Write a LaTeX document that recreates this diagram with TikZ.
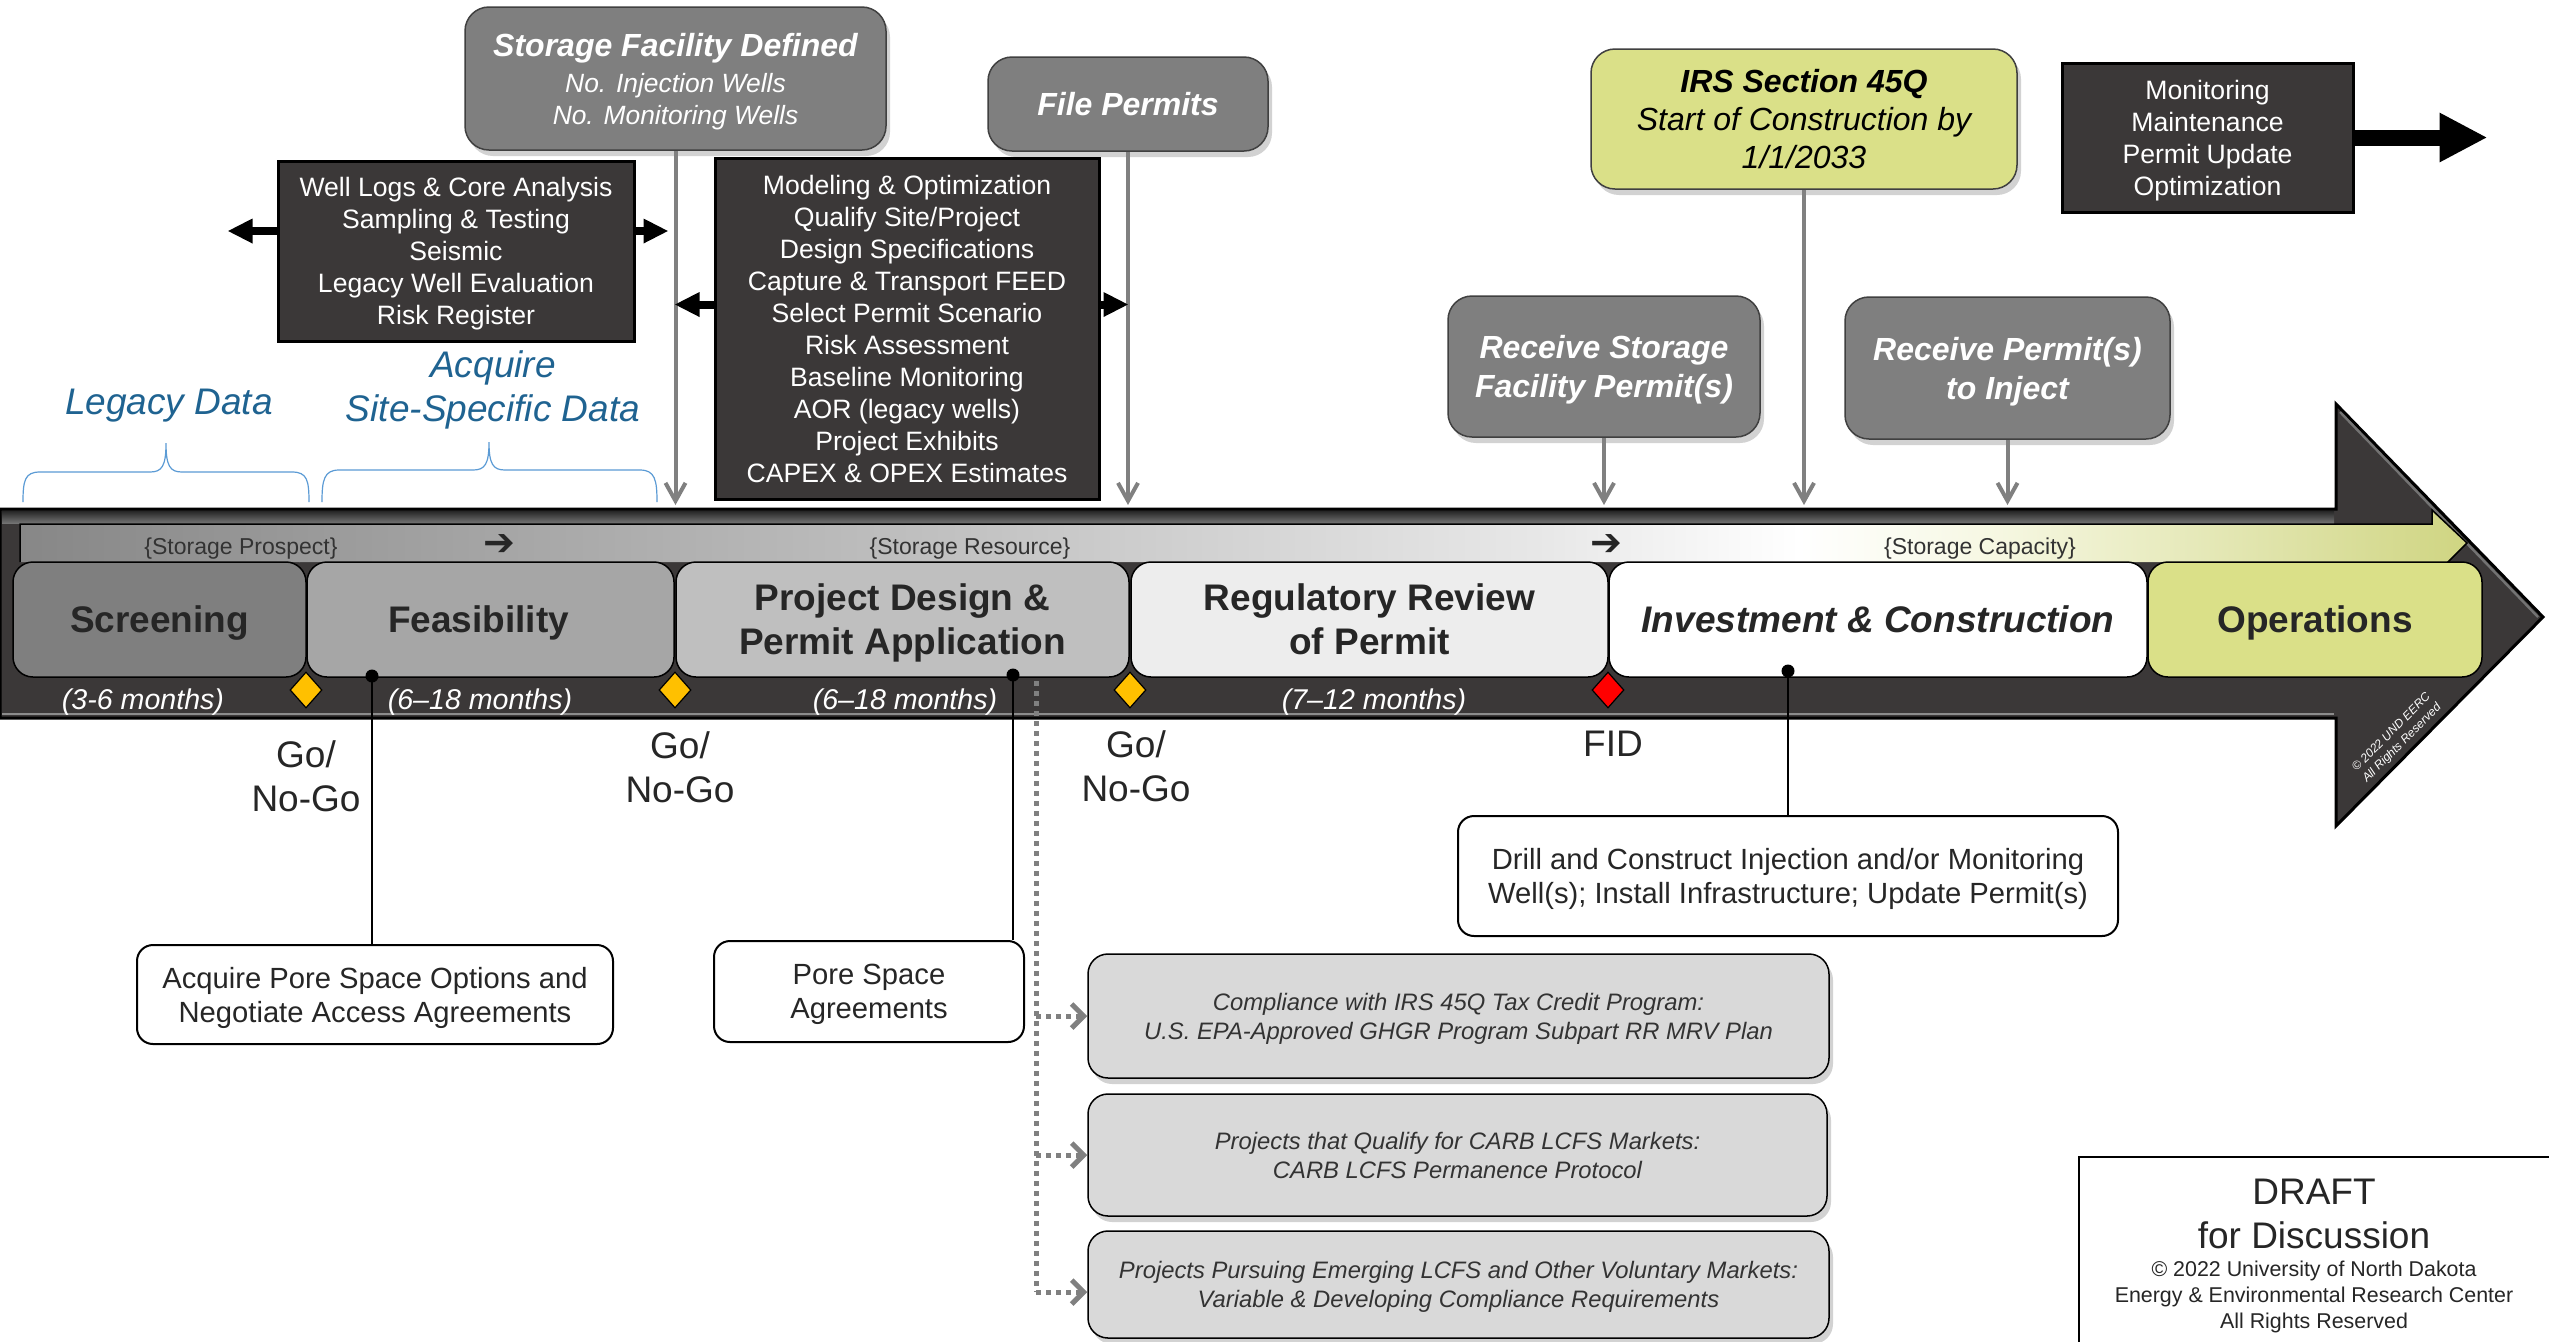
\documentclass[tikz,border=0pt]{standalone}
\usepackage{fontspec}
\setmainfont{Liberation Sans}
\newfontfamily\djv{DejaVu Sans}
\usetikzlibrary{arrows.meta,shapes.geometric,shadows,calc}
\newcommand{\fsz}[2]{\fontsize{#1pt}{#2pt}\selectfont}
\definecolor{txt}{HTML}{262626}
\definecolor{txttwo}{HTML}{333333}
\definecolor{grayfifty}{HTML}{7F7F7F}
\definecolor{bandc}{HTML}{3B3838}
\definecolor{ltg}{HTML}{D9D9D9}
\definecolor{yg}{HTML}{DAE088}
\definecolor{bluet}{HTML}{1F6391}
\definecolor{bracec}{HTML}{5B9BD5}
\definecolor{gold}{HTML}{FFC000}
\definecolor{arrgray}{HTML}{808080}
\begin{document}
\begin{tikzpicture}[x=0.5pt,y=-0.5pt,
  shadowed/.style={drop shadow={shadow xshift=2pt,shadow yshift=-3pt,opacity=0.35}},
  graybox/.style={draw=black!75,line width=0.75pt,fill=grayfifty,rounded corners=12pt,text=white,align=center,inner sep=0pt,text depth=0pt,shadowed},
  darkbox/.style={draw=black,line width=1.5pt,fill=bandc,text=white,align=center,inner sep=0pt,text depth=0pt,font=\fsz{13.3}{16}},
  phase/.style={draw=black,line width=0.75pt,rounded corners=10pt,minimum height=57.5pt,inner sep=0pt,text depth=0pt,align=center,text=txt,font=\bfseries\fsz{18.5}{22}},
  whitebox/.style={draw=black,line width=1pt,fill=white,rounded corners=8pt,align=center,text=txt,inner sep=0pt,text depth=0pt,font=\fsz{14.6}{17}},
  ltbox/.style={draw=black,line width=0.75pt,fill=ltg,rounded corners=10pt,align=center,text=txttwo,inner sep=0pt,text depth=0pt,font=\itshape\fsz{11.9}{14.5},shadowed},
  month/.style={text=white,font=\itshape\fsz{14.3}{17},inner sep=0pt,text depth=0pt},
  dmd/.style={diamond,draw=black,line width=0.6pt,inner sep=0pt,minimum width=16pt,minimum height=18pt},
  dot/.style={circle,fill=black,inner sep=0pt,minimum size=6.5pt},
  conn/.style={draw=black,line width=1.1pt},
  golbl/.style={align=center,text=txt,font=\fsz{18.5}{22},inner sep=0pt},
  bluelbl/.style={align=center,text=bluet,font=\itshape\fsz{18.5}{22},inner sep=0pt},
  brace/.style={draw=bracec,line width=0.6pt},
  strl/.style={text=txttwo,font=\fsz{11.5}{13},inner sep=0pt,text depth=0pt},
  stra/.style={text=txt,font=\djv\fsz{19}{20},inner sep=0pt},
  garrow/.style={draw=arrgray,line width=2pt,-{Straight Barb[length=9pt,width=10pt]}},
  barrow/.style={draw=black,line width=4pt,-{Triangle[length=12.5pt,width=11.5pt]}},
  marrow/.style={draw=black,line width=8pt,-{Triangle[length=24pt,width=23pt]}},
  dotline/.style={draw=arrgray,line width=2.5pt,dash pattern=on 2.5pt off 2.5pt},
  dotarrow/.style={dotline,-{Straight Barb[length=6pt,width=12pt]}}
]
\useasboundingbox (0,0) rectangle (2549,1341);
\fill[white] (0,0) rectangle (2549,1341);

% ---------- main band arrow ----------
\fill[bandc,draw=black,line width=1.5pt] (0,509) -- (2336,509) -- (2336,404) -- (2543,617) -- (2336,826) -- (2336,718) -- (0,718) -- cycle;
\shade[top color=black!85,bottom color=black!55] (2,511) rectangle (2334,523);
\draw[black!45,line width=0.8pt] (2,714) -- (2334,714);
\draw[black!55,line width=1.2pt] (2340,412) -- (2538,617);

% ---------- inner gradient strip arrow ----------
\begin{scope}
\clip (20,524) -- (2432,524) -- (2432,510) -- (2467,543) -- (2432,578) -- (2432,562) -- (20,562) -- cycle;
\shade[left color=black!47,right color=black!40] (20,505) rectangle (300,580);
\shade[left color=black!40,right color=black!23] (299,505) rectangle (1000,580);
\shade[left color=black!23,right color=black!9] (999,505) rectangle (1550,580);
\shade[left color=black!9,right color=white] (1549,505) rectangle (1800,580);
\shade[left color=white,right color=yg!25] (1799,505) rectangle (2000,580);
\shade[left color=yg!25,right color=yg!95!black] (1999,505) rectangle (2470,580);
\end{scope}
\draw[black,line width=0.75pt] (20,562) -- (20,524) -- (2432,524) -- (2432,510) -- (2467,543) -- (2432,578) -- (2432,562);

\node[strl] (sl1) at (241,546) {\{Storage Prospect\}};
\node[stra] (sa1) at (499,545) {➔};
\node[strl] (sl2) at (970,546) {\{Storage Resource\}};
\node[stra] (sa2) at (1606,545) {➔};
\node[strl] (sl3) at (1980,546) {\{Storage Capacity\}};

% ---------- phase boxes ----------
\node[phase,fill=grayfifty,minimum width=146.5pt] (scr) at (159.5,619.5) {Screening};
\node[phase,fill=black!35,minimum width=183.5pt] (fea) at (490.5,619.5) {Feasibility\kern12pt};
\node[phase,fill=black!25,minimum width=226.5pt] (pd) at (902.5,619.5) {Project Design \&\\Permit Application};
\node[phase,fill=black!7,minimum width=238.5pt] (rr) at (1369.5,619.5) {Regulatory Review\\of Permit};
\node[phase,fill=white,minimum width=269pt] (ic) at (1878,619.5) {\itshape Investment \& Construction};
\node[phase,fill=yg,minimum width=167pt] (ops) at (2315,619.5) {Operations};

% months
\node[month] (m1) at (143,699) {(3-6 months)};
\node[month] (m2) at (480,699) {(6--18 months)};
\node[month] (m3) at (905,699) {(6--18 months)};
\node[month] (m4) at (1374,699) {(7--12 months)};

% diamonds
\node[dmd,fill=gold] (k1) at (306,690) {};
\node[dmd,fill=gold] (k2) at (675,690) {};
\node[dmd,fill=gold] (k3) at (1130,690) {};
\node[dmd,fill=red] (k4) at (1608,690) {};

% copyright on arrow head
\node[rotate=45,text=white,align=center,font=\itshape\fsz{6}{7.5},inner sep=0pt] (cpy) at (2397,738) {© 2022 UND EERC\\All Rights Reserved};

% gate labels
\node[golbl] (go1) at (306,776) {Go/\\No-Go};
\node[golbl] (go2) at (680,767) {Go/\\No-Go};
\node[golbl] (go3) at (1136,766) {Go/\\No-Go};
\node[golbl] (fid) at (1613,744) {FID};

% ---------- top boxes ----------
\node[graybox,minimum width=210.5pt,minimum height=71.5pt,font=\itshape\fsz{13.2}{16}] (sfd) at (675.5,78.5)
  {{\bfseries\fsz{16}{19}Storage Facility Defined}\\[2pt]No. Injection Wells\\No. Monitoring Wells};
\node[graybox,minimum width=140pt,minimum height=47pt,font=\bfseries\itshape\fsz{16}{19}] (fp) at (1128,104) {File Permits};
\node[darkbox,minimum width=178pt,minimum height=90pt] (wl) at (456,251)
  {Well Logs \& Core Analysis\\Sampling \& Testing\\Seismic\\Legacy Well Evaluation\\Risk Register};
\node[darkbox,minimum width=192pt,minimum height=170.5pt] (md) at (907,328.5)
  {Modeling \& Optimization\\Qualify Site/Project\\Design Specifications\\Capture \& Transport FEED\\Select Permit Scenario\\Risk Assessment\\Baseline Monitoring\\AOR (legacy wells)\\Project Exhibits\\CAPEX \& OPEX Estimates};
\node[graybox,fill=yg,text=black,minimum width=213pt,minimum height=70pt,font=\itshape\fsz{16}{19}] (irs) at (1804,119)
  {{\bfseries IRS Section 45Q}\\Start of Construction by\\1/1/2033};
\node[darkbox,minimum width=145.5pt,minimum height=74.5pt] (mon) at (2207.5,137.5)
  {Monitoring\\Maintenance\\Permit Update\\Optimization};
\node[graybox,minimum width=156pt,minimum height=70.5pt,font=\bfseries\itshape\fsz{16}{19.5}] (rsf) at (1604,366.5)
  {Receive Storage\\Facility Permit(s)};
\node[graybox,minimum width=162.5pt,minimum height=71pt,font=\bfseries\itshape\fsz{16}{19.5}] (rpi) at (2007.5,368)
  {Receive Permit(s)\\to Inject};

% blue labels and braces
\node[bluelbl] (leg) at (169,406) {Legacy Data};
\node[bluelbl] (acq) at (493,390) {Acquire\\Site-Specific Data};
\draw[brace] (23,502) .. controls (23,480) and (25,472) .. (40,472) -- (150,472)
  .. controls (162,472) and (166,466) .. (166,443) .. controls (166,466) and (170,472) .. (182,472)
  -- (292,472) .. controls (307,472) and (309,480) .. (309,502);
\draw[brace] (322,502) .. controls (322,480) and (324,470) .. (339,470) -- (473,470)
  .. controls (485,470) and (489,464) .. (489,442) .. controls (489,464) and (493,470) .. (505,470)
  -- (640,470) .. controls (655,470) and (657,480) .. (657,502);

% arrows from top boxes
\coordinate (bt) at (0,505);
\draw[garrow] (sfd.south) -- (sfd.south |- bt);
\draw[garrow] (fp.south) -- (fp.south |- bt);
\draw[garrow] (irs.south) -- (irs.south |- bt);
\draw[garrow] (rsf.south) -- (rsf.south |- bt);
\draw[garrow] (rpi.south) -- (rpi.south |- bt);

\draw[barrow] ([yshift=10pt]wl.west) -- ++(-49,0);
\draw[barrow] ([yshift=10pt]wl.east) -- ++(33,0);
\draw[barrow] ([yshift=12pt]md.west) -- ++(-39,0);
\draw[barrow] ([yshift=12pt]md.east) -- ++(28,0);
\draw[marrow] (mon.east) -- ++(133,0);

% ---------- bottom boxes ----------
\node[whitebox,minimum width=238pt,minimum height=49.5pt] (aps) at (375,994.5)
  {Acquire Pore Space Options and\\Negotiate Access Agreements};
\node[whitebox,minimum width=155pt,minimum height=50.5pt] (psa) at (869,991.5)
  {Pore Space\\Agreements};
\node[whitebox,minimum width=330pt,minimum height=60pt] (dci) at (1788,876)
  {Drill and Construct Injection and/or Monitoring\\Well(s); Install Infrastructure; Update Permit(s)};
\node[ltbox,minimum width=370.5pt,minimum height=62pt] (g1) at (1458.5,1016)
  {Compliance with IRS 45Q Tax Credit Program:\\U.S. EPA-Approved GHGR Program Subpart RR MRV Plan};
\node[ltbox,minimum width=369.5pt,minimum height=61pt] (g2) at (1457.5,1155)
  {Projects that Qualify for CARB LCFS Markets:\\CARB LCFS Permanence Protocol};
\node[ltbox,minimum width=370.5pt,minimum height=53.5pt] (g3) at (1458.5,1284.5)
  {Projects Pursuing Emerging LCFS and Other Voluntary Markets:\\Variable \& Developing Compliance Requirements};

% dots and connectors
\node[dot] (p1) at (372,676) {};
\node[dot] (p2) at (1013,675) {};
\node[dot] (p3) at (1788,671) {};
\draw[conn] (p1.center) -- (aps.north -| p1);
\draw[conn] (p2.center) -- (psa.north -| p2);
\draw[conn] (p3.center) -- (dci.north);

% dotted branch
\coordinate (dtop) at (1036,681);
\coordinate (dbot) at (1036,1292);
\draw[dotline] (dtop) -- (dbot);
\draw[dotarrow] (dtop |- g1.west) -- (g1.west);
\draw[dotarrow] (dtop |- g2.west) -- (g2.west);
\draw[dotarrow] (dbot) -- (dbot -| g3.west);

% ---------- draft notice ----------
\draw[black,line width=1.2pt] (2079,1345) -- (2079,1157) -- (2552,1157);
\node[align=center,text=txt,font=\fsz{18.5}{22},inner sep=0pt] (dr1) at (2314,1214) {DRAFT\\for Discussion};
\node[align=center,text=txt,font=\fsz{10.7}{13},inner sep=0pt] (dr2) at (2314,1297)
  {© 2022 University of North Dakota\\Energy \& Environmental Research Center\\All Rights Reserved};
\end{tikzpicture}
\end{document}
